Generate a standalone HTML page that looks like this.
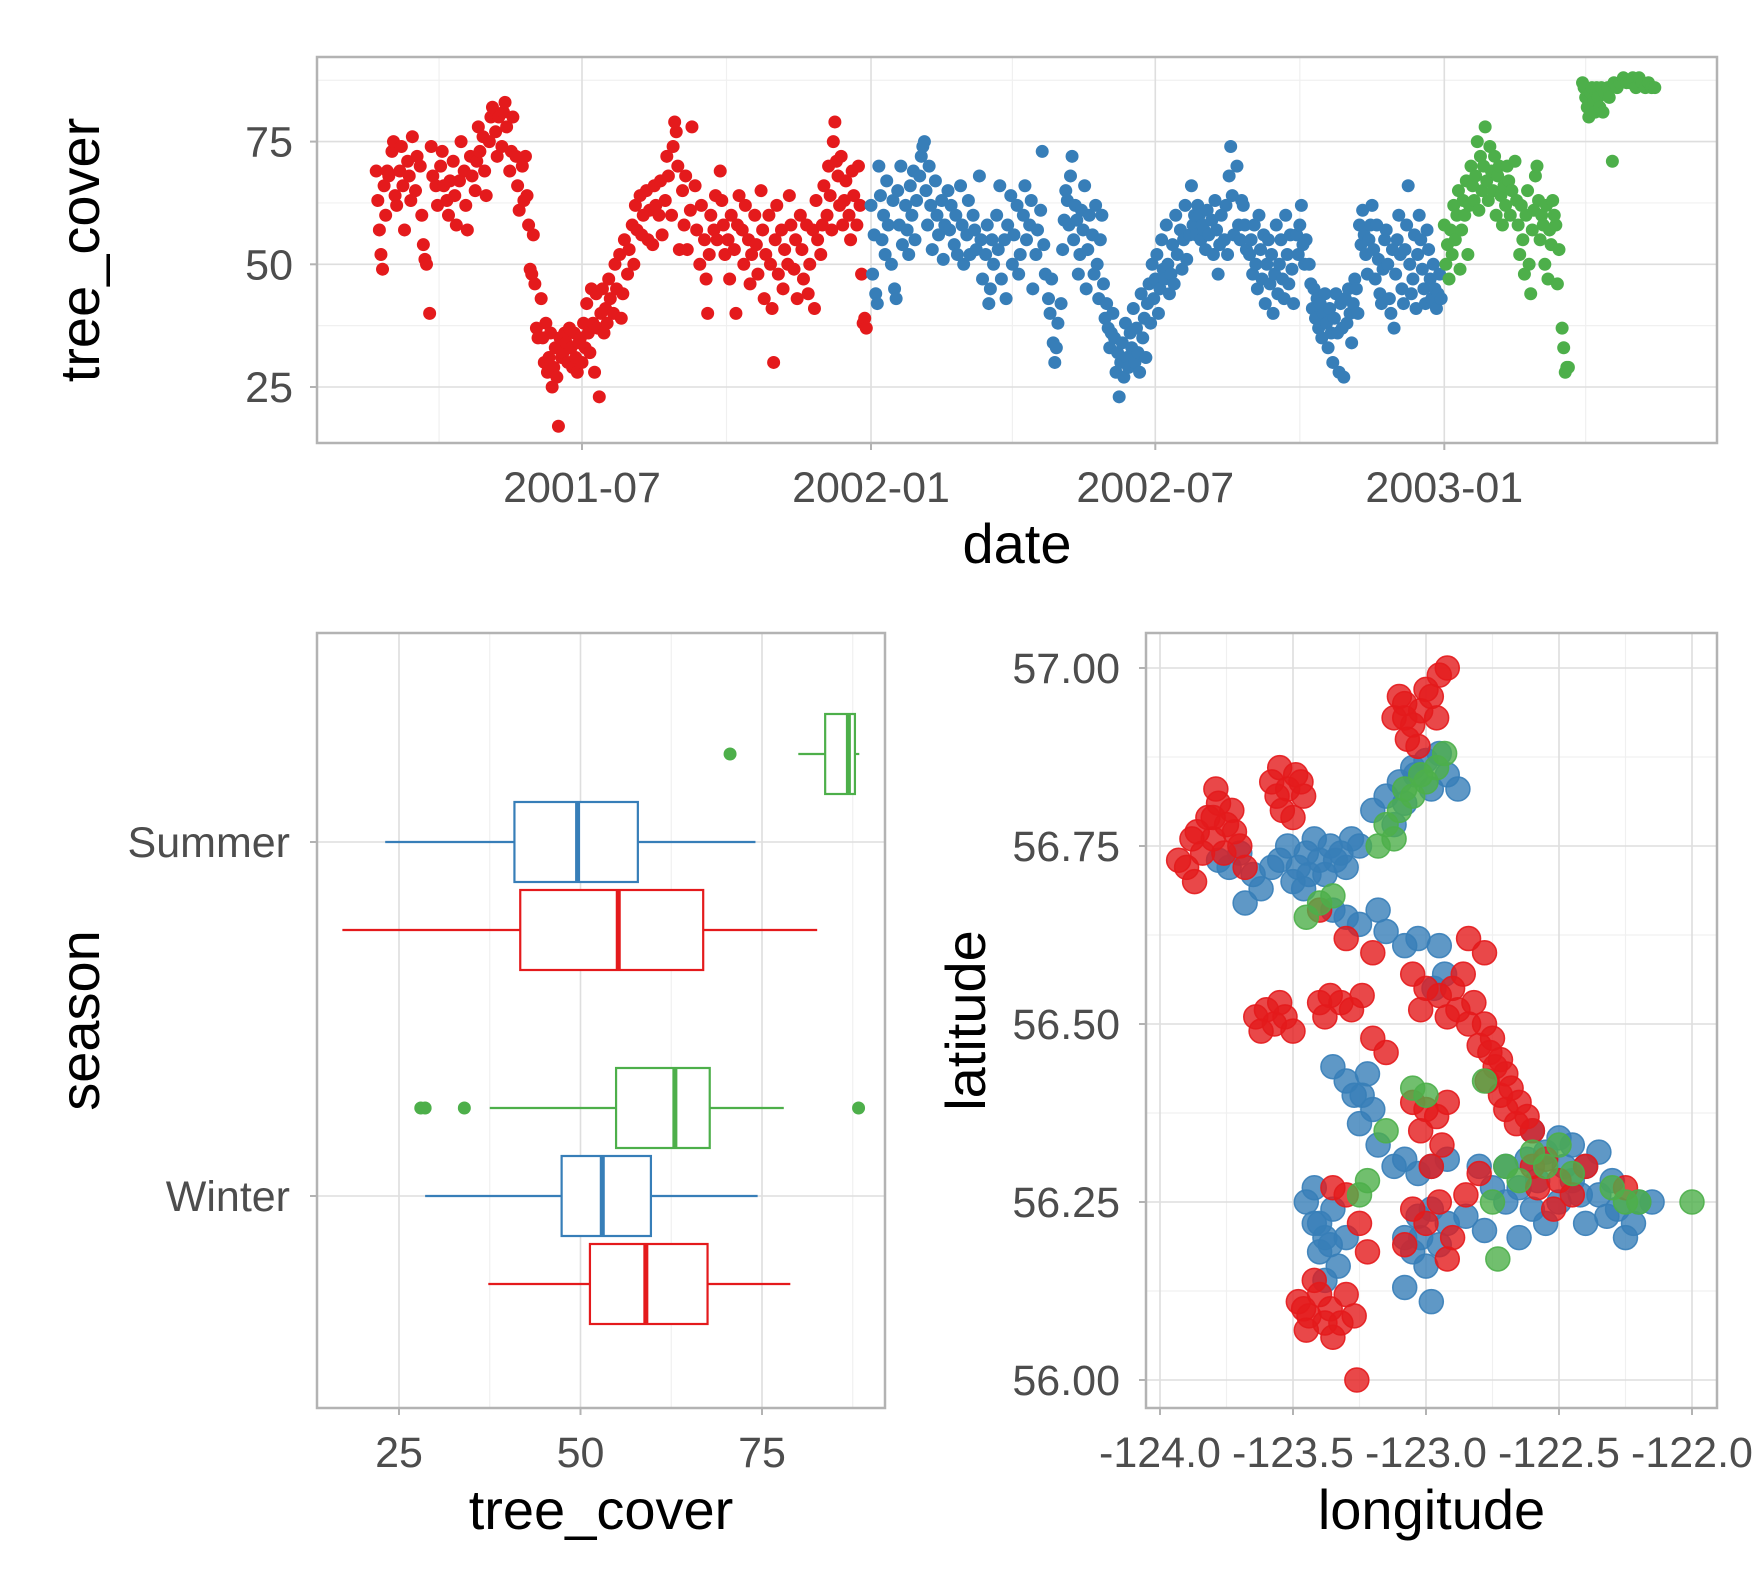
<!DOCTYPE html>
<html><head><meta charset="utf-8"><style>
html,body{margin:0;padding:0;background:#fff;}
svg text{font-family:"Liberation Sans",sans-serif;}
</style></head><body>
<svg id="c" width="1764" height="1587" viewBox="0 0 1764 1587" xmlns="http://www.w3.org/2000/svg"></svg>
<script>
// ---------- data ----------
const tsRed=[[50,69],[51,63],[52,57],[53,52],[54,49],[55,66],[56,60],[57,69],[58,68],[60,73],[61,75],[62,64],[63,62],[65,69],[66,74],[67,66],[68,57],[70,71],[71,68],[72,63],[73,76],[75,65],[76,72],[78,70],[79,60],[80,54],[81,51],[82,50],[84,40],[85,74],[86,68],[88,66],[89,62],[91,70],[92,73],[93,66],[95,63],[96,60],[97,67],[99,71],[100,64],[101,58],[103,67],[104,75],[106,69],[107,62],[108,57],[110,72],[111,68],[113,65],[114,71],[115,78],[116,73],[118,76],[119,69],[120,64],[122,75],[123,80],[124,82],[126,77],[127,72],[128,80],[130,74],[131,81],[132,83],[133,78],[135,69],[136,73],[137,80],[139,72],[140,66],[141,61],[143,70],[144,63],[145,72],[146,64],[147,58],[148,49],[149,48],[150,56],[151,46],[152,37],[153,35],[155,43],[156,35],[157,30],[158,38],[159,28],[160,31],[161,36],[162,25],[163,29],[164,33],[165,27],[166,17],[167,35],[168,31],[169,32],[170,36],[171,34],[172,30],[173,37],[174,33],[175,29],[176,36],[177,31],[178,28],[179,34],[180,35],[181,30],[182,38],[183,33],[184,42],[185,36],[186,32],[187,45],[188,38],[189,28],[190,44],[191,37],[192,23],[193,40],[194,45],[195,36],[196,41],[197,38],[198,47],[199,43],[201,40],[202,50],[203,45],[205,52],[206,39],[207,44],[208,55],[210,48],[211,53],[213,58],[214,50],[215,62],[216,57],[218,64],[219,56],[220,60],[222,65],[223,55],[224,61],[226,54],[227,66],[228,62],[230,60],[231,67],[232,56],[234,63],[235,72],[236,68],[238,60],[239,74],[240,79],[241,77],[242,70],[243,53],[245,65],[246,58],[247,68],[248,53],[250,61],[251,78],[253,66],[254,57],[256,50],[257,62],[259,55],[260,47],[261,40],[262,52],[263,60],[265,57],[266,64],[267,55],[269,69],[270,63],[271,58],[272,52],[274,55],[275,47],[276,60],[278,53],[279,40],[280,58],[281,64],[283,57],[284,50],[285,62],[287,55],[288,46],[289,52],[291,60],[292,54],[293,48],[295,65],[296,57],[297,43],[298,52],[300,60],[301,50],[302,41],[303,30],[304,55],[305,62],[306,48],[308,57],[309,45],[310,53],[312,50],[313,64],[314,58],[316,49],[317,55],[318,43],[320,60],[321,53],[322,47],[324,58],[325,44],[326,50],[328,57],[329,41],[330,63],[331,55],[333,52],[334,58],[335,66],[337,60],[338,70],[339,64],[340,57],[341,75],[342,79],[343,71],[344,68],[345,62],[346,72],[347,58],[348,63],[349,67],[351,60],[352,55],[353,69],[354,64],[356,58],[357,70],[358,62],[359,48],[360,38],[361,39],[362,37]];
const tsBlue=[[365,62],[366,48],[367,56],[368,44],[369,42],[370,70],[371,64],[372,55],[373,60],[374,52],[375,67],[376,58],[378,50],[379,63],[380,45],[381,43],[382,65],[383,58],[384,70],[385,54],[387,62],[388,57],[389,52],[390,66],[391,60],[392,69],[393,55],[394,63],[396,68],[397,72],[398,74],[399,75],[400,65],[401,58],[402,70],[403,62],[404,53],[406,67],[407,60],[408,56],[410,63],[411,51],[412,58],[414,65],[415,57],[416,62],[418,54],[419,60],[420,52],[422,66],[423,58],[424,50],[426,56],[427,63],[428,52],[430,60],[431,57],[432,53],[434,68],[435,55],[436,47],[438,52],[439,58],[440,42],[441,45],[442,55],[443,50],[445,60],[446,53],[447,66],[448,47],[450,55],[451,43],[452,58],[454,64],[455,50],[456,56],[458,62],[459,48],[460,52],[462,60],[463,66],[464,55],[466,58],[467,63],[468,45],[470,52],[471,57],[473,61],[474,73],[475,54],[476,48],[478,43],[479,40],[480,47],[481,34],[482,30],[483,33],[484,38],[486,42],[487,53],[488,59],[489,65],[490,63],[491,58],[492,68],[493,72],[494,55],[495,62],[496,59],[497,48],[498,52],[499,61],[500,57],[501,66],[502,45],[503,53],[504,60],[506,56],[507,48],[508,62],[509,50],[510,43],[511,55],[512,60],[513,46],[514,39],[515,42],[516,37],[517,33],[518,36],[519,40],[520,35],[521,28],[522,32],[523,23],[524,30],[525,34],[526,27],[527,38],[528,31],[529,29],[530,36],[531,33],[532,41],[533,30],[534,37],[535,32],[536,28],[537,44],[538,35],[539,39],[540,31],[541,42],[542,46],[543,38],[544,50],[545,43],[546,47],[547,52],[548,40],[549,45],[550,55],[551,49],[552,47],[553,58],[554,50],[555,44],[556,48],[557,54],[558,46],[559,60],[560,52],[562,57],[563,49],[564,55],[565,62],[566,51],[568,56],[569,66],[570,58],[571,60],[572,56],[573,62],[574,60],[575,55],[576,58],[577,57],[578,53],[579,61],[580,56],[582,59],[583,52],[584,63],[585,57],[586,48],[587,54],[588,60],[590,55],[591,62],[592,52],[593,68],[594,74],[595,64],[596,56],[598,70],[599,58],[600,55],[601,63],[602,62],[603,58],[604,53],[606,52],[607,55],[608,48],[609,58],[610,50],[611,45],[612,60],[613,53],[614,47],[615,56],[616,42],[617,50],[618,55],[619,46],[620,52],[621,40],[622,48],[623,58],[624,44],[625,50],[626,55],[627,47],[628,43],[629,60],[630,52],[631,46],[632,56],[633,49],[634,42],[636,56],[637,52],[638,58],[639,62],[640,54],[641,50],[642,55],[644,50],[645,46],[646,41],[647,45],[648,39],[649,43],[650,37],[651,42],[652,35],[653,40],[654,44],[655,38],[656,33],[657,41],[658,36],[659,30],[660,39],[661,44],[662,36],[663,28],[664,42],[665,37],[666,27],[667,43],[668,38],[669,45],[670,40],[671,34],[672,42],[673,47],[674,45],[675,40],[676,58],[677,54],[678,61],[679,56],[680,52],[681,48],[682,55],[683,58],[684,62],[685,53],[686,47],[687,58],[688,51],[689,44],[690,42],[691,49],[692,55],[693,57],[694,50],[695,43],[696,40],[697,53],[698,37],[699,48],[700,55],[701,60],[702,52],[703,45],[704,42],[705,53],[706,58],[707,66],[708,50],[709,44],[710,47],[711,56],[712,41],[713,52],[714,60],[715,55],[716,49],[717,45],[718,42],[719,57],[720,53],[721,47],[722,43],[723,50],[724,45],[725,41],[726,44],[727,48],[728,43]];
const tsGreen=[[730,58],[731,50],[732,54],[733,47],[734,57],[735,52],[736,62],[737,55],[738,60],[739,65],[740,49],[741,57],[742,63],[743,60],[744,67],[745,52],[746,62],[747,70],[748,66],[749,63],[750,68],[751,75],[752,61],[753,72],[754,65],[755,70],[756,78],[757,67],[758,63],[759,74],[760,69],[761,65],[762,72],[763,60],[764,68],[765,70],[766,64],[767,58],[768,66],[769,62],[770,70],[771,67],[772,60],[773,65],[775,71],[776,63],[777,58],[778,52],[779,62],[780,55],[781,48],[782,60],[783,65],[784,50],[785,44],[786,57],[787,61],[788,68],[789,70],[790,63],[791,55],[792,60],[793,58],[794,50],[795,62],[796,47],[797,57],[798,54],[799,63],[800,60],[801,58],[802,46],[803,53],[805,37],[806,33],[807,28],[808,29],[809,29],[818,87],[819,86],[820,84],[821,82],[822,80],[823,85],[824,86],[825,83],[826,81],[827,86],[828,84],[829,82],[830,86],[831,81],[832,85],[834,86],[835,84],[837,71],[838,87],[840,86],[842,87],[844,88],[846,87],[848,87],[850,88],[852,86],[854,88],[856,87],[858,86],[860,87],[862,86],[864,86]];
const dateTickDays=[181,365,546,730];
const dateTickLabels=["2001-07","2002-01","2002-07","2003-01"];
const yTicks=[25,50,75];

const seasons=["Summer","Winter"];
const groups=["green","blue","red"];
const boxStats={
 Summer:{green:[80.0,83.7,86.9,87.8,88.4],blue:[23.1,40.9,49.6,57.9,74.1],red:[17.2,41.7,55.2,66.9,82.6]},
 Winter:{green:[37.5,54.9,63.0,67.8,78.0],blue:[28.6,47.4,53.0,59.7,74.4],red:[37.3,51.3,59.0,67.5,78.9]}
};
const boxOutliers={Summer:{green:[70.6],blue:[],red:[]},Winter:{green:[28.0,28.6,34.0,88.3],blue:[],red:[]}};
const boxTicks=[25,50,75];

const mapRed=[[-123.90,56.72],[-123.87,56.70],[-123.84,56.74],[-123.80,56.76],[-123.82,56.79],[-123.78,56.81],[-123.75,56.78],[-123.72,56.77],[-123.70,56.75],[-123.86,56.77],[-123.76,56.74],[-123.93,56.73],[-123.79,56.83],[-123.68,56.72],[-123.73,56.80],[-123.58,56.84],[-123.55,56.86],[-123.52,56.83],[-123.49,56.85],[-123.46,56.82],[-123.54,56.80],[-123.50,56.79],[-123.47,56.84],[-123.56,56.82],[-123.12,56.93],[-123.08,56.95],[-123.05,56.92],[-123.02,56.94],[-122.98,56.96],[-122.95,56.99],[-122.92,57.00],[-123.07,56.90],[-123.03,56.89],[-123.10,56.96],[-122.96,56.93],[-123.64,56.51],[-123.60,56.52],[-123.57,56.50],[-123.53,56.51],[-123.50,56.49],[-123.62,56.49],[-123.55,56.53],[-123.40,56.53],[-123.36,56.54],[-123.32,56.53],[-123.28,56.52],[-123.24,56.54],[-123.38,56.51],[-123.20,56.48],[-123.15,56.46],[-123.05,56.57],[-123.00,56.55],[-122.95,56.54],[-122.90,56.55],[-122.86,56.57],[-122.82,56.53],[-122.78,56.50],[-122.75,56.48],[-122.72,56.45],[-122.70,56.43],[-122.68,56.41],[-122.65,56.39],[-122.62,56.37],[-122.74,56.44],[-122.80,56.47],[-122.77,56.42],[-122.70,56.38],[-122.60,56.35],[-122.84,56.62],[-122.78,56.60],[-122.92,56.51],[-123.02,56.52],[-123.05,56.39],[-123.00,56.38],[-122.96,56.37],[-122.92,56.39],[-123.02,56.35],[-122.94,56.33],[-122.98,56.30],[-123.48,56.11],[-123.44,56.09],[-123.40,56.12],[-123.36,56.10],[-123.32,56.08],[-123.42,56.14],[-123.30,56.12],[-123.45,56.07],[-123.35,56.06],[-123.27,56.09],[-123.26,56.00],[-123.05,56.24],[-123.00,56.22],[-122.95,56.25],[-122.90,56.20],[-122.85,56.26],[-122.80,56.29],[-123.08,56.19],[-122.92,56.17],[-122.60,56.30],[-122.55,56.31],[-122.50,56.28],[-122.45,56.26],[-122.52,56.24],[-122.58,56.27],[-122.40,56.30],[-122.25,56.27],[-123.30,56.26],[-123.25,56.22],[-123.22,56.18],[-123.35,56.27],[-123.40,56.66],[-123.30,56.62],[-123.20,56.60],[-122.88,56.52],[-122.84,56.50],[-122.76,56.46],[-122.72,56.40],[-122.66,56.36],[-123.88,56.76],[-123.80,56.79],[-123.08,56.93],[-123.00,56.97],[-123.46,56.10],[-123.38,56.08]];
const mapBlue=[[-123.55,56.73],[-123.52,56.75],[-123.48,56.72],[-123.45,56.74],[-123.42,56.76],[-123.40,56.73],[-123.36,56.75],[-123.32,56.74],[-123.28,56.76],[-123.25,56.75],[-123.50,56.70],[-123.46,56.69],[-123.38,56.71],[-123.58,56.72],[-123.30,56.72],[-123.20,56.80],[-123.15,56.82],[-123.10,56.84],[-123.05,56.86],[-123.00,56.87],[-122.95,56.88],[-122.92,56.85],[-123.08,56.81],[-122.98,56.83],[-122.88,56.83],[-123.12,56.78],[-123.78,56.73],[-123.74,56.72],[-123.70,56.74],[-123.65,56.71],[-123.62,56.69],[-123.68,56.67],[-123.35,56.66],[-123.30,56.65],[-123.25,56.64],[-123.18,56.66],[-123.15,56.63],[-123.08,56.61],[-123.03,56.62],[-122.95,56.61],[-122.93,56.57],[-122.97,56.55],[-123.35,56.44],[-123.30,56.42],[-123.27,56.40],[-123.22,56.43],[-123.20,56.38],[-123.25,56.36],[-123.18,56.33],[-123.12,56.30],[-123.08,56.31],[-123.03,56.29],[-122.98,56.30],[-122.92,56.31],[-123.45,56.25],[-123.42,56.22],[-123.38,56.20],[-123.35,56.24],[-123.40,56.18],[-123.33,56.16],[-123.38,56.14],[-123.30,56.20],[-123.42,56.27],[-123.08,56.20],[-123.05,56.18],[-123.00,56.16],[-122.95,56.19],[-122.92,56.22],[-123.03,56.23],[-123.08,56.13],[-122.98,56.11],[-122.80,56.30],[-122.75,56.27],[-122.70,56.25],[-122.65,56.27],[-122.60,56.24],[-122.55,56.22],[-122.50,56.25],[-122.45,56.28],[-122.40,56.30],[-122.35,56.32],[-122.30,56.28],[-122.28,56.24],[-122.25,56.20],[-122.22,56.22],[-122.55,56.32],[-122.50,56.34],[-122.60,56.35],[-122.45,56.33],[-122.70,56.30],[-122.65,56.20],[-122.40,56.22],[-122.35,56.26],[-122.20,56.25],[-122.15,56.25],[-122.85,56.23],[-122.78,56.21],[-123.44,56.71],[-123.34,56.73],[-123.40,56.22],[-123.36,56.19],[-123.02,56.20],[-122.98,56.24],[-122.58,56.28],[-122.48,56.30],[-122.42,56.26],[-122.32,56.23],[-122.62,56.31],[-123.24,56.40],[-123.04,56.85]];
const mapGreen=[[-123.15,56.78],[-123.10,56.80],[-123.05,56.82],[-123.00,56.84],[-122.96,56.86],[-122.93,56.88],[-123.08,56.83],[-123.02,56.85],[-123.18,56.75],[-123.12,56.76],[-123.45,56.65],[-123.40,56.67],[-123.35,56.68],[-123.05,56.41],[-123.00,56.40],[-123.15,56.35],[-123.22,56.28],[-123.25,56.26],[-122.70,56.30],[-122.65,56.28],[-122.60,56.32],[-122.55,56.30],[-122.50,56.33],[-122.45,56.29],[-122.75,56.25],[-122.73,56.17],[-122.30,56.27],[-122.25,56.25],[-122.20,56.25],[-122.00,56.25],[-122.78,56.42]];
const lonTicks=[-124,-123.5,-123,-122.5,-122];
const lonLabels=["-124.0","-123.5","-123.0","-122.5","-122.0"];
const latTicks=[56,56.25,56.5,56.75,57];
const latLabels=["56.00","56.25","56.50","56.75","57.00"];

// ---------- drawing ----------
const NS="http://www.w3.org/2000/svg";
const svg=document.getElementById('c');
const COL={red:"#e41a1c",blue:"#377eb8",green:"#4daf4a"};
const TF=43, TT=56;
function mk(tag,attrs,parent){const e=document.createElementNS(NS,tag);for(const k in attrs)e.setAttribute(k,attrs[k]);(parent||svg).appendChild(e);return e;}
function txt(s,attrs,parent){const e=mk('text',attrs,parent);e.textContent=s;return e;}
function grid(g,x1,y1,x2,y2,minor){mk('line',{x1,y1,x2,y2,stroke:minor?'#f0f0f0':'#dedede','stroke-width':minor?1.2:1.6},g);}

// ---- Panel 1 ----
const P1={l:317,r:1717,t:57,b:443};
const xT=d=>582+(d-181)*1.5707;
const yT=v=>387-(v-25)*122.7/25;
let g=mk('g',{});


[37.5,62.5,87.5].forEach(v=>grid(g,P1.l,yT(v),P1.r,yT(v),true));
[90,273,455,638,820].forEach(d=>grid(g,xT(d),P1.t,xT(d),P1.b,true));
yTicks.forEach(v=>grid(g,P1.l,yT(v),P1.r,yT(v)));
dateTickDays.forEach(d=>grid(g,xT(d),P1.t,xT(d),P1.b));
[[tsRed,'red'],[tsBlue,'blue'],[tsGreen,'green']].forEach(([arr,c])=>{
  const sg=mk('g',{fill:COL[c]},g);
  
  
  arr.forEach(p=>{const e=mk('circle',{cx:xT(p[0]),cy:yT(p[1]),r:6.5},sg);
    
    });
});
mk('rect',{x:P1.l,y:P1.t,width:P1.r-P1.l,height:P1.b-P1.t,fill:'none',stroke:'#b3b3b3','stroke-width':2.5},g);
yTicks.forEach(v=>{mk('line',{x1:P1.l-7,x2:P1.l,y1:yT(v),y2:yT(v),stroke:'#b3b3b3','stroke-width':2},g);
  const t=txt(String(v),{x:P1.l-24,y:yT(v)+15,'text-anchor':'end','font-size':TF,fill:'#4d4d4d'},g);
  });
dateTickDays.forEach((d,i)=>{mk('line',{x1:xT(d),x2:xT(d),y1:P1.b,y2:P1.b+7,stroke:'#b3b3b3','stroke-width':2},g);
  const t=txt(dateTickLabels[i],{x:xT(d),y:502,'text-anchor':'middle','font-size':TF,fill:'#4d4d4d'},g);
  });
let t=txt('date',{x:(P1.l+P1.r)/2,y:563,'text-anchor':'middle','font-size':TT,fill:'#000'},g);

t=txt('tree_cover',{x:0,y:0,transform:`translate(99,${(P1.t+P1.b)/2}) rotate(-90)`,'text-anchor':'middle','font-size':TT,fill:'#000'},g);


// ---- Panel 2 ----
const P2={l:317,r:885,t:633,b:1408};
const xB=v=>399+(v-25)*181.5/25;
const catY={Summer:842,Winter:1196};
const dodge={green:-88,blue:0,red:88};
g=mk('g',{});


[37.5,62.5,87.5].forEach(v=>grid(g,xB(v),P2.t,xB(v),P2.b,true));
boxTicks.forEach(v=>grid(g,xB(v),P2.t,xB(v),P2.b));
seasons.forEach(s=>grid(g,P2.l,catY[s],P2.r,catY[s]));
seasons.forEach(s=>groups.forEach(gr=>{
  const st=boxStats[s][gr],cy=catY[s]+dodge[gr],c=COL[gr],h=40;
  const bg=mk('g',{stroke:c,fill:'none','stroke-width':2.2},g);
  
  
  mk('line',{x1:xB(st[0]),x2:xB(st[1]),y1:cy,y2:cy},bg);
  mk('line',{x1:xB(st[3]),x2:xB(st[4]),y1:cy,y2:cy},bg);
  mk('rect',{x:xB(st[1]),y:cy-h,width:xB(st[3])-xB(st[1]),height:2*h,fill:'#fff'},bg);
  mk('line',{x1:xB(st[2]),x2:xB(st[2]),y1:cy-h,y2:cy+h,'stroke-width':5},bg);
  boxOutliers[s][gr].forEach(o=>mk('circle',{cx:xB(o),cy:cy,r:6.5,fill:c,stroke:'none'},bg));
}));
mk('rect',{x:P2.l,y:P2.t,width:P2.r-P2.l,height:P2.b-P2.t,fill:'none',stroke:'#b3b3b3','stroke-width':2.5},g);
boxTicks.forEach(v=>{mk('line',{x1:xB(v),x2:xB(v),y1:P2.b,y2:P2.b+7,stroke:'#b3b3b3','stroke-width':2},g);
  const tt=txt(String(v),{x:xB(v),y:1467,'text-anchor':'middle','font-size':TF,fill:'#4d4d4d'},g);
  });
seasons.forEach(s=>{mk('line',{x1:P2.l-7,x2:P2.l,y1:catY[s],y2:catY[s],stroke:'#b3b3b3','stroke-width':2},g);
  const tt=txt(s,{x:P2.l-27,y:catY[s]+15,'text-anchor':'end','font-size':TF,fill:'#4d4d4d'},g);
  });
t=txt('tree_cover',{x:(P2.l+P2.r)/2,y:1529,'text-anchor':'middle','font-size':TT,fill:'#000'},g);

t=txt('season',{x:0,y:0,transform:`translate(99,${(P2.t+P2.b)/2}) rotate(-90)`,'text-anchor':'middle','font-size':TT,fill:'#000'},g);


// ---- Panel 3 ----
const P3={l:1146,r:1717,t:633,b:1408};
const xM=lon=>1160+(lon+124)*266;
const yM=lat=>1380-(lat-56)*712;
g=mk('g',{});


[-123.75,-123.25,-122.75,-122.25].forEach(v=>grid(g,xM(v),P3.t,xM(v),P3.b,true));
[56.125,56.375,56.625,56.875].forEach(v=>grid(g,P3.l,yM(v),P3.r,yM(v),true));
lonTicks.forEach(v=>grid(g,xM(v),P3.t,xM(v),P3.b));
latTicks.forEach(v=>grid(g,P3.l,yM(v),P3.r,yM(v)));
[[mapBlue,'blue'],[mapRed,'red'],[mapGreen,'green']].forEach(([arr,c])=>{
  const sg=mk('g',{fill:COL[c],'fill-opacity':0.8,stroke:COL[c],'stroke-opacity':0.9,'stroke-width':1.5},g);
  
  
  arr.forEach(p=>{const e=mk('circle',{cx:xM(p[0]),cy:yM(p[1]),r:12},sg);
    
    });
});
mk('rect',{x:P3.l,y:P3.t,width:P3.r-P3.l,height:P3.b-P3.t,fill:'none',stroke:'#b3b3b3','stroke-width':2.5},g);
lonTicks.forEach((v,i)=>{mk('line',{x1:xM(v),x2:xM(v),y1:P3.b,y2:P3.b+7,stroke:'#b3b3b3','stroke-width':2},g);
  const tt=txt(lonLabels[i],{x:xM(v),y:1467,'text-anchor':'middle','font-size':TF,fill:'#4d4d4d'},g);
  });
latTicks.forEach((v,i)=>{mk('line',{x1:P3.l-7,x2:P3.l,y1:yM(v),y2:yM(v),stroke:'#b3b3b3','stroke-width':2},g);
  const tt=txt(latLabels[i],{x:P3.l-26,y:yM(v)+15,'text-anchor':'end','font-size':TF,fill:'#4d4d4d'},g);
  });
t=txt('longitude',{x:(P3.l+P3.r)/2,y:1529,'text-anchor':'middle','font-size':TT,fill:'#000'},g);

t=txt('latitude',{x:0,y:0,transform:`translate(985,${(P3.t+P3.b)/2}) rotate(-90)`,'text-anchor':'middle','font-size':TT,fill:'#000'},g);

</script>
</body></html>
